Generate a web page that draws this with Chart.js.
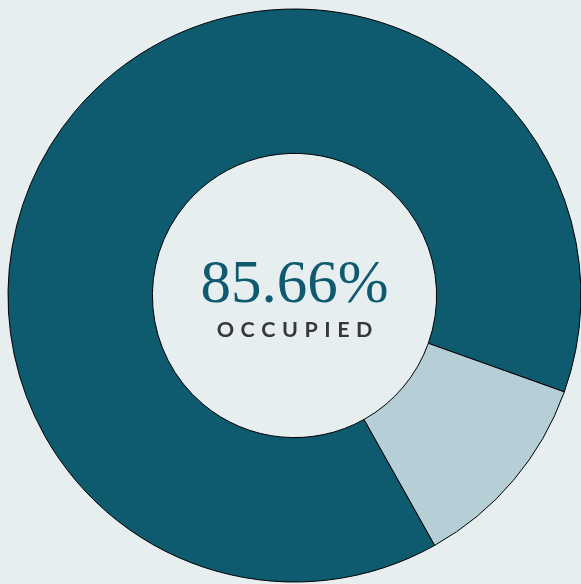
<!DOCTYPE html>
<html>
<head>
<meta charset="utf-8">
<script src="https://cdn.jsdelivr.net/npm/chart.js@4.4.1/dist/chart.umd.min.js"></script>
<style>
  html, body { margin: 0; padding: 0; background: #e6eef0; overflow: hidden; width: 581px; height: 584px; }
  #wrap { position: absolute; left: 0; top: 0; width: 582px; height: 584px; }
</style>
</head>
<body>
<div id="wrap"><canvas id="c"></canvas></div>
<script>
const categories = ["Occupied", "Vacant"];
const values = [88.6, 11.4];
const colors = ["#0e5a6e", "#b6ced5"];
const centerValue = "85.66%";
const centerLabel = "OCCUPIED";

const centerText = {
  id: 'centerText',
  afterDraw(chart) {
    const ctx = chart.ctx;
    const meta = chart.getDatasetMeta(0);
    const arc = meta.data[0];
    const cx = arc.x, cy = arc.y;
    ctx.save();
    ctx.fillStyle = '#0f5a6e';
    ctx.font = '61px "Liberation Serif", serif';
    ctx.textAlign = 'center';
    ctx.textBaseline = 'alphabetic';
    ctx.fillText(centerValue, cx, cy + 6.5);
    ctx.fillStyle = '#38383a';
    ctx.font = 'bold 21.5px Lato, sans-serif';
    ctx.textAlign = 'left';
    const spacing = 6.5;
    let total = 0;
    const widths = [];
    for (const ch of centerLabel) { const w = ctx.measureText(ch).width; widths.push(w); total += w; }
    total += spacing * (centerLabel.length - 1);
    let x = cx - total / 2;
    [...centerLabel].forEach((ch, i) => { ctx.fillText(ch, x, cy + 41.5); x += widths[i] + spacing; });
    ctx.restore();
  }
};

new Chart(document.getElementById('c'), {
  type: 'doughnut',
  data: {
    labels: categories,
    datasets: [{
      data: values,
      backgroundColor: colors,
      borderColor: '#000000',
      borderWidth: 1,
      hoverOffset: 0
    }]
  },
  options: {
    responsive: true,
    maintainAspectRatio: false,
    animation: false,
    rotation: 150.7,
    cutout: '49.6%',
    layout: { padding: { left: 7.5, top: 8.5, right: 0.5, bottom: 1.5 } },
    plugins: { legend: { display: false }, tooltip: { enabled: false } }
  },
  plugins: [centerText]
});
</script>
</body>
</html>
